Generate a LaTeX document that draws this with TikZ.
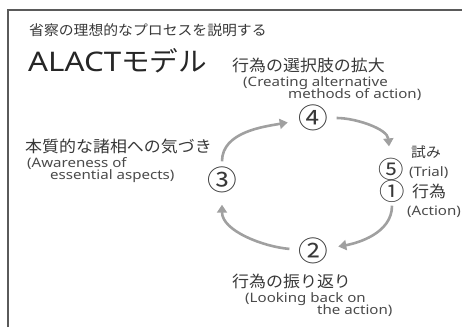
\documentclass[tikz,border=0pt]{standalone}
\usepackage{fontspec}
\setmainfont{Noto Sans CJK JP}[FakeStretch=1.06]
\newfontfamily\enfont{Noto Sans}[FakeStretch=1.16]
\usetikzlibrary{arrows.meta}
\definecolor{arrowgray}{HTML}{A0A0A0}
\definecolor{txtdark}{HTML}{383838}
\definecolor{txten}{HTML}{4A4A4A}
\definecolor{framegray}{HTML}{5A5A5A}
\newcommand\mycirc[1]{\raisebox{-.38em}[0pt][0pt]{\makebox[0pt]{#1}}}
\tikzset{
  jp/.style={inner sep=0pt, anchor=west, text=txtdark, font=\fontsize{16}{16}\selectfont},
  en/.style={inner sep=0pt, anchor=west, text=txten, font=\enfont\fontsize{13}{13}\selectfont},
  num/.style={circle, inner sep=0pt, minimum size=25pt, text=txtdark, font=\fontsize{28}{28}\selectfont},
  smallnum/.style={num, minimum size=21pt, font=\fontsize{24}{24}\selectfont},
  arr/.style={draw=arrowgray, line width=2.6pt, -{Triangle[length=8pt,width=10pt]}},
  frameline/.style={draw=framegray, line width=1.5pt}
}
\begin{document}
\begin{tikzpicture}[x=1pt,y=1pt]
\useasboundingbox (0,0) rectangle (462,327);
\draw[frameline] (8,0) -- (8,317) -- (462,317);

\node[jp, font=\fontsize{14}{14}\selectfont] (title) at (29,297) {省察の理想的なプロセスを説明する};
\node[jp, text=black!85, font=\fontsize{27}{27}\selectfont] (model) at (28,266) {{\enfont ALACT}モデル};

\node[num] (n4) at (313,209) {\mycirc{④}};
\node[num] (n3) at (222,147) {\mycirc{③}};
\node[num] (n2) at (313,76) {\mycirc{②}};
\node[smallnum] (n5) at (391,158) {\mycirc{⑤}};
\node[smallnum] (n1) at (392,136) {\mycirc{①}};

\node[jp] (l4) at (232,262) {行為の選択肢の拡大};
\node[en] (l4a) at (243,244) {(Creating alternative};
\node[en] (l4b) at (288,232) {methods of action)};

\node[jp] (l3) at (25,181) {本質的な諸相への気づき};
\node[en] (l3a) at (27,163) {(Awareness of};
\node[en] (l3b) at (50,151) {essential aspects)};

\node[jp, font=\fontsize{14}{14}\selectfont] (l5) at (411,175) {試み};
\node[en] (l5a) at (409,154) {(Trial)};
\node[jp] (l1) at (412,136) {行為};
\node[en] (l1a) at (407,115) {(Action)};

\node[jp] (l2) at (232,46) {行為の振り返り};
\node[en] (l2a) at (245,28) {(Looking back on};
\node[en] (l2b) at (317,16) {the action)};

\draw[arr, shorten <=6pt, shorten >=13pt] (n3) to[out=90,in=190] (n4);
\draw[arr, shorten <=11pt, shorten >=12pt] (n4) to[out=0,in=95] (n5);
\draw[arr, shorten <=4pt, shorten >=13pt] (n1) to[out=-90,in=10] (n2);
\draw[arr, shorten <=11pt, shorten >=12pt] (n2) to[out=175,in=-90] (n3);
\end{tikzpicture}
\end{document}
